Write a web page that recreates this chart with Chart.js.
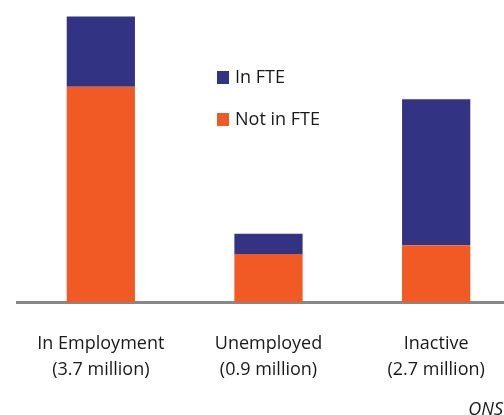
<!DOCTYPE html>
<html>
<head>
<meta charset="utf-8">
<script src="https://cdn.jsdelivr.net/npm/chart.js@4/dist/chart.umd.min.js"></script>
<style>
  html, body { margin: 0; padding: 0; background: #fff; overflow: hidden; }
  #wrap { position: relative; width: 504px; height: 415px; overflow: hidden; }
  #box { position: absolute; left: 0; top: 0; width: 520px; height: 415px; }
  .legend { position: absolute; left: 217px; font: 18px 'Open Sans', sans-serif; color: #1a1a1a; line-height: 20px; }
  .legend span { display: inline-block; width: 12px; height: 13px; margin-right: 6px; vertical-align: -1px; }
  #src { position: absolute; right: 1px; top: 398px; font: italic 18px 'Open Sans', sans-serif; color: #1a1a1a; line-height: 20px; }
</style>
</head>
<body>
<div id="wrap">
  <div id="box"><canvas id="chart" width="520" height="415"></canvas></div>
  <div class="legend" style="top:66px"><span style="background:#333383"></span>In FTE</div>
  <div class="legend" style="top:108px"><span style="background:#f15a24"></span>Not in FTE</div>
  <div id="src">ONS</div>
</div>
<script>
// millions
const categories = [
  ['In Employment', '(3.7 million)'],
  ['Unemployed', '(0.9 million)'],
  ['Inactive', '(2.7 million)'],
];
const notInFte = [2.79, 0.63, 0.74];
const inFte = [0.91, 0.26, 1.89];

new Chart(document.getElementById('chart'), {
  type: 'bar',
  data: {
    labels: categories,
    datasets: [
      { label: 'Not in FTE', data: notInFte, backgroundColor: '#f15a24', barPercentage: 0.407, categoryPercentage: 1 },
      { label: 'In FTE', data: inFte, backgroundColor: '#333383', barPercentage: 0.407, categoryPercentage: 1 },
    ],
  },
  options: {
    responsive: false,
    animation: false,
    layout: { padding: { top: 1, left: 17, right: 0, bottom: 12 } },
    plugins: { legend: { display: false }, tooltip: { enabled: false } },
    scales: {
      x: {
        stacked: true,
        grid: { display: false },
        border: { color: '#888888', width: 3 },
        ticks: { color: '#1a1a1a', padding: 21, font: { family: 'Open Sans', size: 18, lineHeight: 1.4 } },
      },
      y: {
        stacked: true,
        display: false,
        min: 0,
        max: 3.9,
      },
    },
  },
});
</script>
</body>
</html>
